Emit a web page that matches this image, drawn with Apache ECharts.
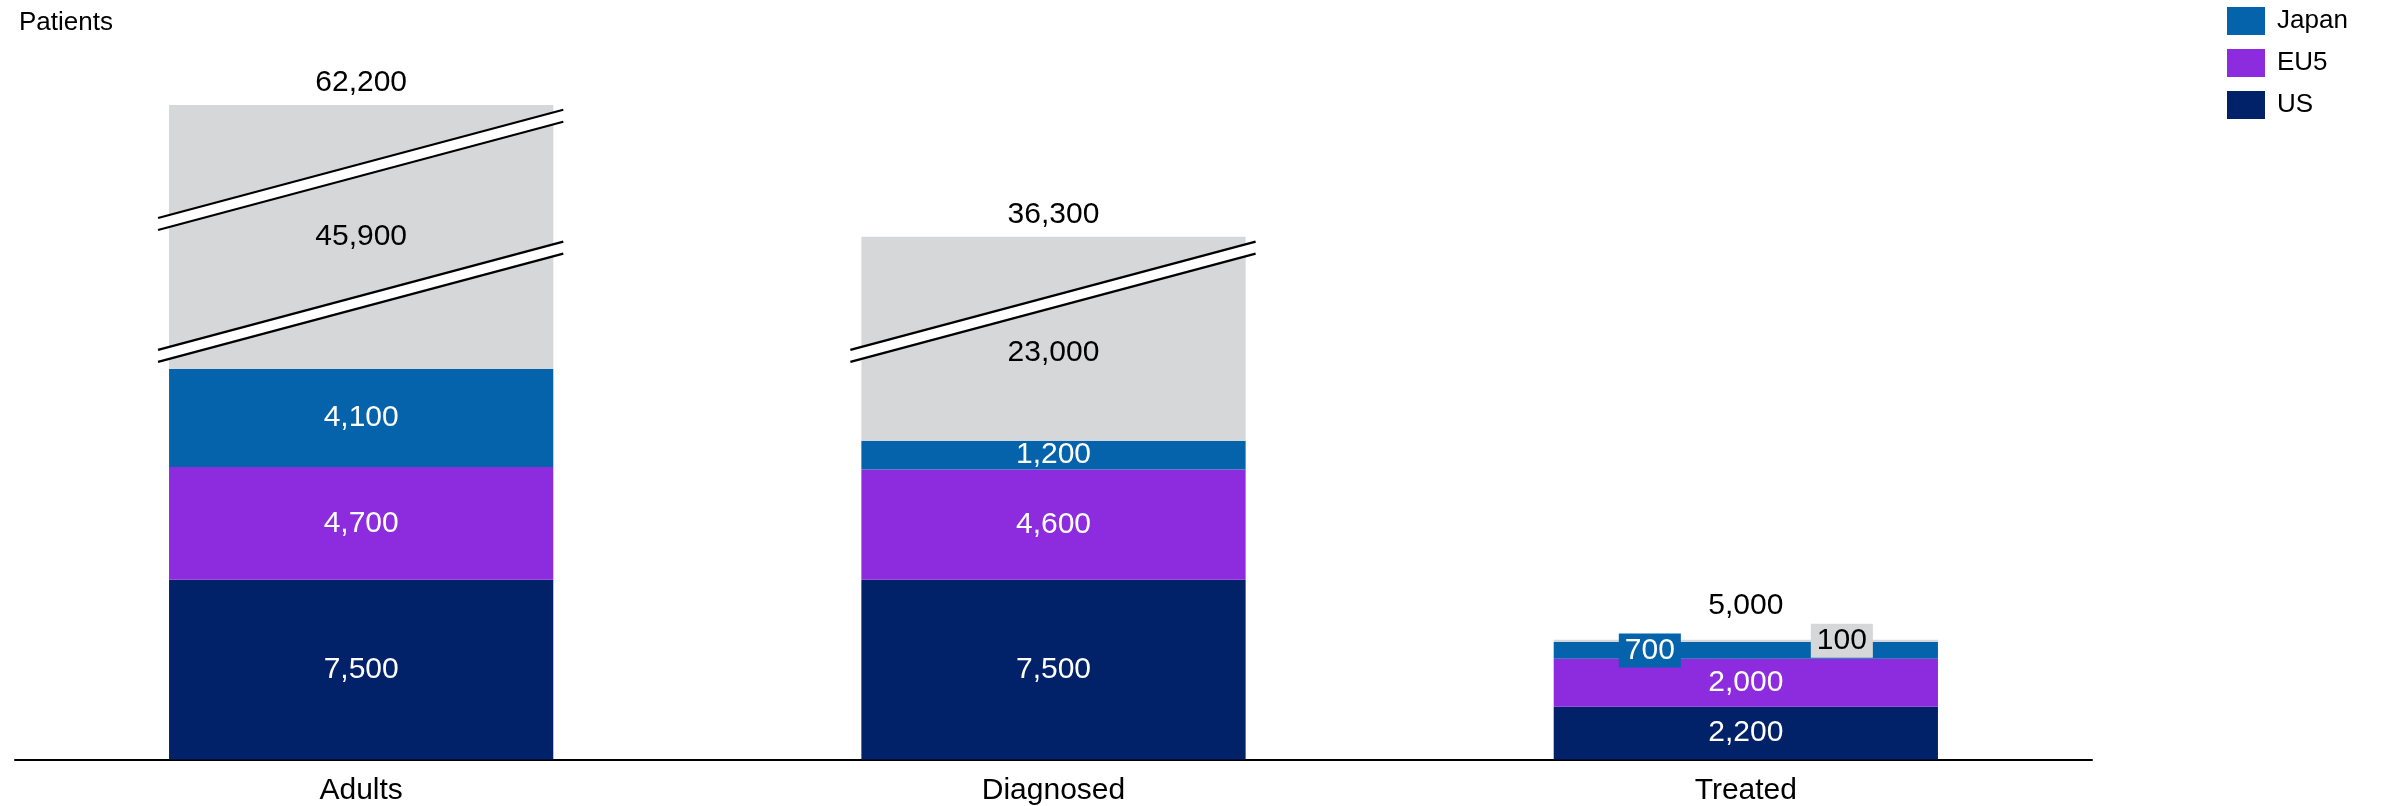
<!DOCTYPE html>
<html><head><meta charset="utf-8">
<script src="https://cdn.jsdelivr.net/npm/echarts@6/dist/echarts.min.js"></script>
<style>html,body{margin:0;padding:0;background:#fff}#c{width:2382px;height:806px}</style>
</head><body><div id="c"></div>
<script>
const categories = ['Adults', 'Diagnosed', 'Treated'];
const usValues = [7500, 7500, 2200];
const eu5Values = [4700, 4600, 2000];
const japanValues = [4100, 1200, 700];
const otherValues = [45900, 23000, 100];
const totalValues = [62200, 36300, 5000];
const legendNames = ['Japan', 'EU5', 'US'];
const yTitle = 'Patients';

const COLORS = { us: '#012169', eu5: '#8D2BDE', japan: '#0563AB', other: '#D6D7D9' };
const FONT = '"Liberation Sans", Arial, Helvetica, sans-serif';
const BREAKS = [
  { start: 18900, end: 33800, gap: 400 },
  { start: 38900, end: 59700, gap: 400 }
];
const BAR_FRAC = 0.555;
const fmt = v => Number(v).toLocaleString('en-US');

const baseLabel = { show: true, position: 'inside', color: '#fff', fontSize: 30, fontFamily: FONT,
  formatter: p => fmt(p.value) };

function barSeries(name, values, color, extra) {
  return {
    name, type: 'bar', stack: 'total', barWidth: (BAR_FRAC * 100) + '%',
    itemStyle: { color }, label: Object.assign({}, baseLabel, extra || {}),
    emphasis: { disabled: true },
    data: values.slice()
  };
}

const japanSeries = barSeries('Japan', japanValues, COLORS.japan);
japanSeries.data = japanValues.map((v, i) => i === 2
  ? { value: v, label: { offset: [-96, 0], backgroundColor: COLORS.japan, padding: [3, 6, 1, 6] } }
  : v);
const otherSeries = barSeries('Other', otherValues, COLORS.other, { color: '#000' });
otherSeries.data = otherValues.map((v, i) => {
  if (i === 1) return { value: v, label: { offset: [0, 14] } };
  if (i === 2) return { value: v, label: { offset: [96, 0], backgroundColor: COLORS.other, padding: [3, 6, 1, 6] } };
  return v;
});

const totalDistances = [7, 7, 19];

const option = {
  animation: false,
  backgroundColor: '#fff',
  textStyle: { fontFamily: FONT },
  title: { text: yTitle, left: 14, top: 5, textStyle: { fontSize: 26, fontWeight: 'normal', color: '#000', fontFamily: FONT } },
  legend: {
    data: legendNames, orient: 'vertical', left: 2227, top: 7, padding: 0,
    itemWidth: 38, itemHeight: 28, itemGap: 14, icon: 'rect',
    textStyle: { fontSize: 26, color: '#000', fontFamily: FONT, padding: [0, 0, 0, 7] },
    selectedMode: false
  },
  grid: { left: 15, right: 290, top: 105, bottom: 46.5, containLabel: false, outerBoundsMode: 'none' },
  xAxis: {
    type: 'category', data: categories,
    axisLine: { show: true, lineStyle: { color: '#000', width: 2 } },
    axisTick: { show: false },
    axisLabel: { color: '#000', fontSize: 30, margin: 16, fontFamily: FONT }
  },
  yAxis: {
    type: 'value', min: 0, max: totalValues[0],
    breaks: BREAKS,
    breakArea: { show: false },
    axisLine: { show: false }, axisTick: { show: false }, axisLabel: { show: false }, splitLine: { show: false }
  },
  series: [
    barSeries('US', usValues, COLORS.us),
    barSeries('EU5', eu5Values, COLORS.eu5),
    japanSeries,
    otherSeries,
    {
      name: 'Total', type: 'scatter', symbolSize: 0, silent: true, z: 5,
      itemStyle: { opacity: 1 },
      data: totalValues.map((v, i) => ({ value: v, label: { distance: totalDistances[i] } })),
      label: { show: true, position: 'top', color: '#000', fontSize: 30, fontFamily: FONT, formatter: p => fmt(p.value) }
    },
    {
      name: 'Breaks', type: 'custom', silent: true, z: 10,
      data: totalValues.map((v, i) => [i, v]),
      renderItem: (params, api) => {
        const idx = api.value(0), total = api.value(1);
        const cx = api.coord([idx, 0])[0];
        const bw = api.size([1, 0])[0] * BAR_FRAC;
        const x0 = cx - bw / 2 - 11, x1 = cx + bw / 2 + 10;
        const slope = 0.267, half = 6;
        const children = [];
        BREAKS.forEach(b => {
          if (total <= b.end) return;
          const yA = api.coord([idx, b.start])[1], yB = api.coord([idx, b.end])[1];
          const cy = (yA + yB) / 2;
          const yl = cy + slope * (cx - x0), yr = cy - slope * (x1 - cx);
          children.push({ type: 'polygon', shape: { points: [[x0, yl - half], [x1, yr - half], [x1, yr + half], [x0, yl + half]] }, style: { fill: '#fff' } });
          children.push({ type: 'line', shape: { x1: x0, y1: yl - half, x2: x1, y2: yr - half }, style: { stroke: '#000', lineWidth: 2.2 } });
          children.push({ type: 'line', shape: { x1: x0, y1: yl + half, x2: x1, y2: yr + half }, style: { stroke: '#000', lineWidth: 2.2 } });
        });
        return { type: 'group', children };
      }
    }
  ]
};

const chart = echarts.init(document.getElementById('c'), null, { renderer: 'canvas' });
chart.setOption(option);
</script>
</body></html>
